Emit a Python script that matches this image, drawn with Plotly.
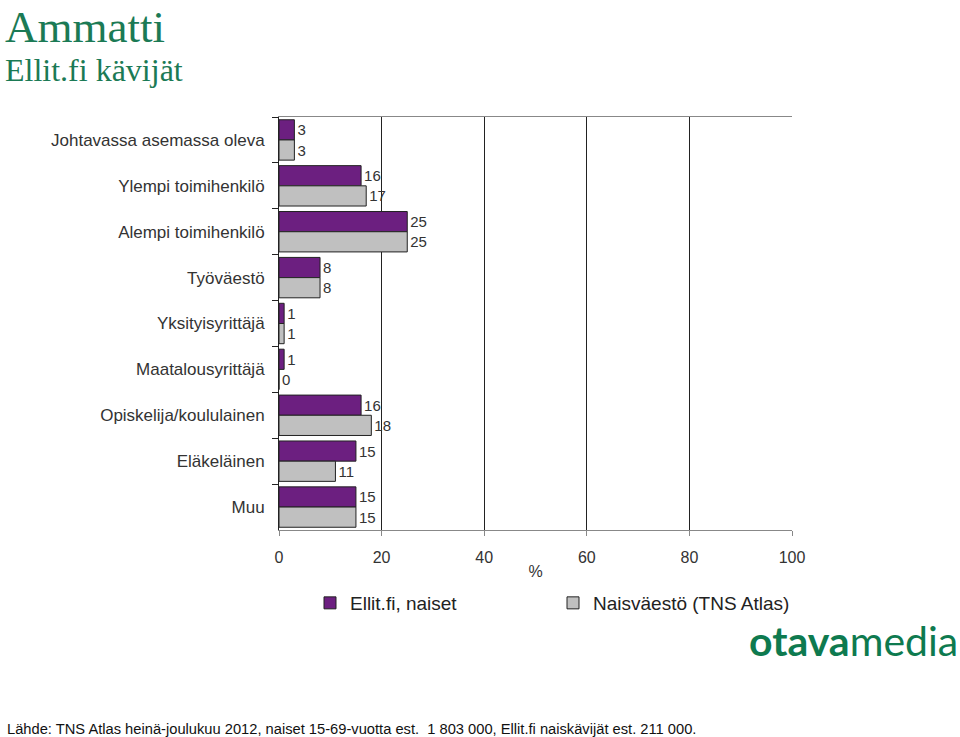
import plotly.graph_objects as go

categories = ["Johtavassa asemassa oleva", "Ylempi toimihenkilö", "Alempi toimihenkilö",
              "Työväestö", "Yksityisyrittäjä", "Maatalousyrittäjä",
              "Opiskelija/koululainen", "Eläkeläinen", "Muu"]
ellit = [3, 16, 25, 8, 1, 1, 16, 15, 15]
naisvaesto = [3, 17, 25, 8, 1, 0, 18, 11, 15]
series_names = ["Ellit.fi, naiset", "Naisväestö (TNS Atlas)"]
x_ticks = [0, 20, 40, 60, 80, 100]

PURPLE = "#6C1F80"
GRAY = "#C0C0C0"
GREEN = "#1B7A55"
TXT = "#333333"

fig = go.Figure()
fig.add_trace(go.Bar(
    y=categories, x=ellit, orientation="h", name=series_names[0],
    marker=dict(color=PURPLE, line=dict(color="#222222", width=1)),
    text=[str(v) for v in ellit], textposition="outside",
    textfont=dict(family="Liberation Sans", size=15, color=TXT),
    cliponaxis=False,
))
fig.add_trace(go.Bar(
    y=categories, x=naisvaesto, orientation="h", name=series_names[1],
    marker=dict(color=GRAY, line=dict(color="#222222", width=1)),
    text=[str(v) for v in naisvaesto], textposition="outside",
    textfont=dict(family="Liberation Sans", size=15, color=TXT),
    cliponaxis=False,
))

fig.update_layout(
    width=960, height=737,
    margin=dict(l=279, r=168, t=117, b=207, autoexpand=False),
    paper_bgcolor="white", plot_bgcolor="white",
    barmode="group", bargap=0.12, bargroupgap=0,
    font=dict(family="Liberation Sans", size=16, color=TXT),
    showlegend=True,
    legend=dict(orientation="h", xref="container", yref="container",
                x=310/960, y=1 - 603/737, xanchor="left", yanchor="middle",
                entrywidth=198, entrywidthmode="pixels",
                font=dict(family="Liberation Sans", size=19, color="#222222"),
                traceorder="normal", itemwidth=30),
    xaxis=dict(range=[0, 100], tickvals=x_ticks, ticktext=[str(v) for v in x_ticks],
               showgrid=True, gridcolor="#222222", gridwidth=1,
               showline=True, linecolor="#888888", mirror=True,
               ticks="outside", ticklen=5, tickcolor="#888888",
               zeroline=False, ticklabelstandoff=8, automargin=False,
               tickfont=dict(family="Liberation Sans", size=16, color=TXT),
               title=dict(text="%", font=dict(family="Liberation Sans", size=16, color=TXT), standoff=0)),
    yaxis=dict(autorange="reversed", showline=True, linecolor="#222222", mirror=False,
               ticks="outside", ticklen=6, tickcolor="#222222", tickson="boundaries",
               tickfont=dict(family="Liberation Sans", size=17, color=TXT),
               ticklabelstandoff=10, showgrid=False, automargin=False),
)

fig.add_annotation(xref="paper", yref="paper", x=-279/513, y=1 + 117/413, xanchor="left", yanchor="top",
                   xshift=3, yshift=0,
                   text="Ammatti", showarrow=False,
                   font=dict(family="Liberation Serif", size=45, color=GREEN))
fig.add_annotation(xref="paper", yref="paper", x=-279/513, y=1 + 117/413, xanchor="left", yanchor="top",
                   xshift=3, yshift=-50,
                   text="Ellit.fi kävijät", showarrow=False,
                   font=dict(family="Liberation Serif", size=32, color=GREEN))
fig.add_annotation(xref="paper", yref="paper", x=(960-279)/513, y=-(614-530)/413, xanchor="right", yanchor="top",
                   text="<b>otava</b>media", showarrow=False,
                   font=dict(family="Lato", size=41, color="#0E7A4F"))
fig.add_annotation(xref="paper", yref="paper", x=-279/513, y=-(729-530)/413, xanchor="left", yanchor="middle",
                   xshift=5,
                   text="Lähde: TNS Atlas heinä-joulukuu 2012, naiset 15-69-vuotta est.  1 803 000, Ellit.fi naiskävijät est. 211 000.",
                   showarrow=False,
                   font=dict(family="Liberation Sans", size=14.7, color="#111111"))

fig.write_html("out.html")
